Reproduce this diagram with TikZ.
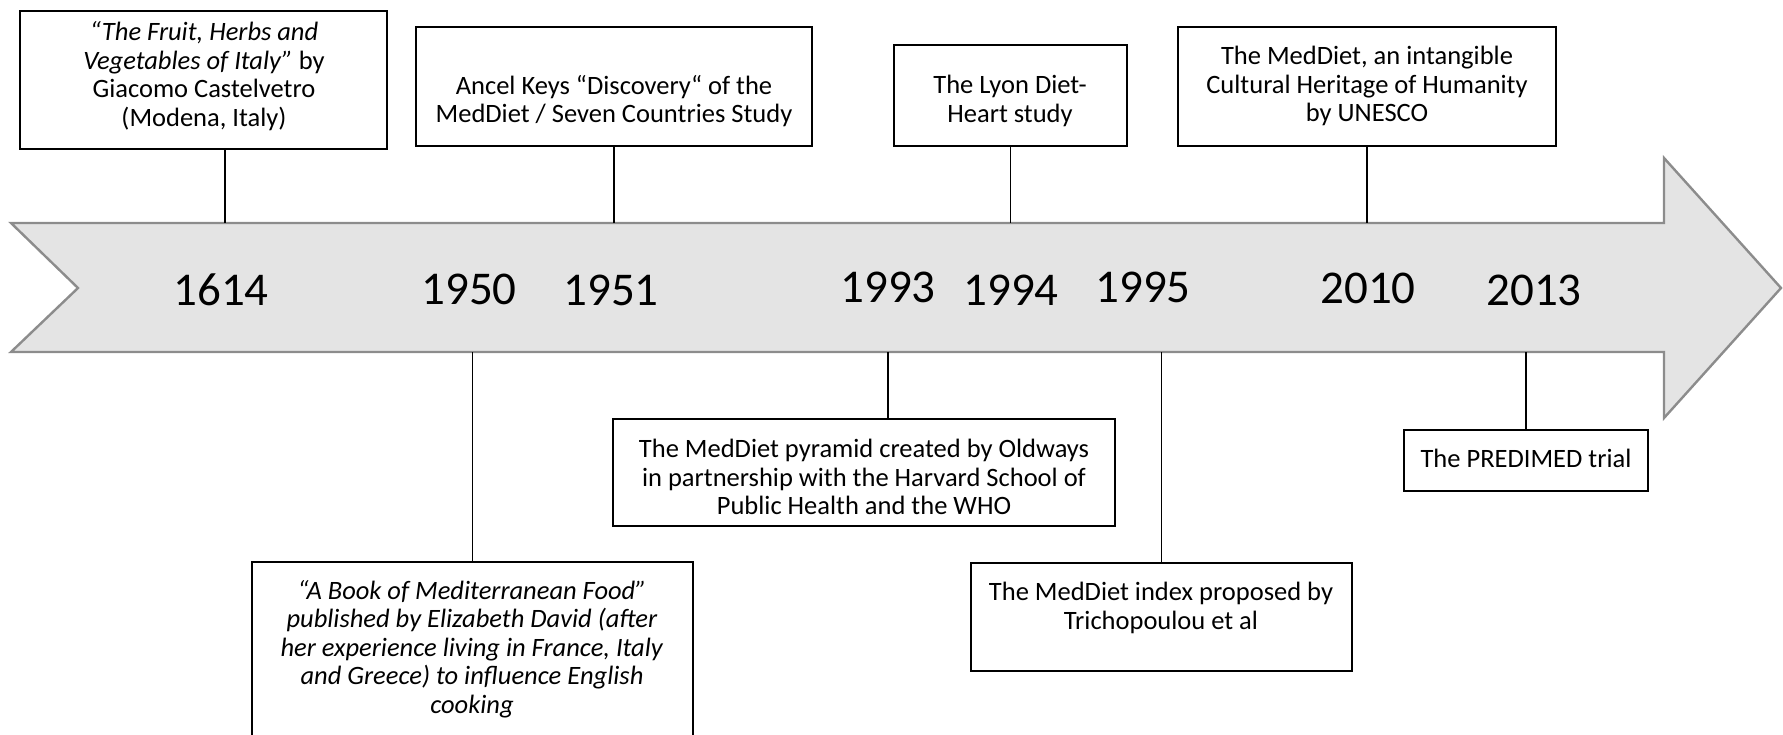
\documentclass[tikz,border=0pt]{standalone}
\usepackage{fontspec}
\setmainfont{Carlito}
\definecolor{arrowfill}{RGB}{228,228,228}
\definecolor{arrowline}{RGB}{140,140,140}
\begin{document}
\begin{tikzpicture}[x=1pt,y=-1pt,
  evbox/.style={draw=black,line width=2.4pt,fill=white,inner sep=0pt,outer sep=0pt},
  txt/.style={align=center,inner sep=0pt,font=\fontsize{26.5pt}{28.6pt}\selectfont},
  yr/.style={inner sep=0pt,font=\fontsize{47pt}{50pt}\selectfont},
  conn/.style={draw=black,line width=1.2pt}]
\useasboundingbox (0,0) rectangle (1783,735);
% timeline arrow
\draw[fill=arrowfill,draw=arrowline,line width=2.4pt,line join=miter]
  (11,223) -- (1664,223) -- (1664,158) -- (1781,288) -- (1664,418) -- (1664,352)
  -- (11,352) -- (78,288) -- cycle;
\coordinate (top) at (0,223);
\coordinate (bot) at (0,352);
% years
\node[yr] (y1614) at (221,290) {1614};
\node[yr] (y1950) at (469,289) {1950};
\node[yr] (y1951) at (611,290) {1951};
\node[yr] (y1993) at (888,287) {1993};
\node[yr] (y1994) at (1011,290) {1994};
\node[yr] (y1995) at (1143,287) {1995};
\node[yr] (y2010) at (1368,288) {2010};
\node[yr] (y2013) at (1534,290) {2013};
% boxes
\node[evbox,minimum width=367pt,minimum height=138pt] (b1) at (203.5,80) {};
\node[evbox,minimum width=396pt,minimum height=119pt] (b2) at (614,86.5) {};
\node[evbox,minimum width=233pt,minimum height=101pt] (b3) at (1010.5,95.5) {};
\node[evbox,minimum width=378pt,minimum height=119pt] (b4) at (1367,86.5) {};
\node[evbox,minimum width=441pt,minimum height=183pt] (b5) at (472.5,653.5) {};
\node[evbox,minimum width=502pt,minimum height=107pt] (b6) at (864,472.5) {};
\node[evbox,minimum width=381pt,minimum height=108pt] (b7) at (1161.5,617) {};
\node[evbox,minimum width=244pt,minimum height=61pt] (b8) at (1526,460.5) {};
% texts
\node[txt] (t1) at (204,76) {\textit{“The Fruit, Herbs and}\\\textit{Vegetables of Italy”} by\\Giacomo Castelvetro\\(Modena, Italy)};
\node[txt] (t2) at (614,101) {Ancel Keys “Discovery“ of the\\MedDiet / Seven Countries Study};
\node[txt] (t3) at (1010,101) {The Lyon Diet-\\Heart study};
\node[txt] (t4) at (1367,86) {The MedDiet, an intangible\\Cultural Heritage of Humanity\\by UNESCO};
\node[txt] (t5) at (472,649) {\textit{“A Book of Mediterranean Food”}\\\textit{published by Elizabeth David (after}\\\textit{her experience living in France, Italy}\\\textit{and Greece) to influence English}\\\textit{cooking}};
\node[txt] (t6) at (864,477) {The MedDiet pyramid created by Oldways\\in partnership with the Harvard School of\\Public Health and the WHO};
\node[txt] (t7) at (1161,608) {The MedDiet index proposed by\\Trichopoulou et al};
\node[txt] (t8) at (1526,458) {The PREDIMED trial};
% connectors
\coordinate (e1) at (225,223);
\coordinate (e6) at (888,352);
\draw[conn] (b1.south -| e1) -- (e1);
\draw[conn] (b2.south) -- (b2.south |- top);
\draw[conn] (b3.south) -- (b3.south |- top);
\draw[conn] (b4.south) -- (b4.south |- top);
\draw[conn] (b5.north) -- (b5.north |- bot);
\draw[conn] (b6.north -| e6) -- (e6);
\draw[conn] (b7.north) -- (b7.north |- bot);
\draw[conn] (b8.north) -- (b8.north |- bot);
\end{tikzpicture}
\end{document}
